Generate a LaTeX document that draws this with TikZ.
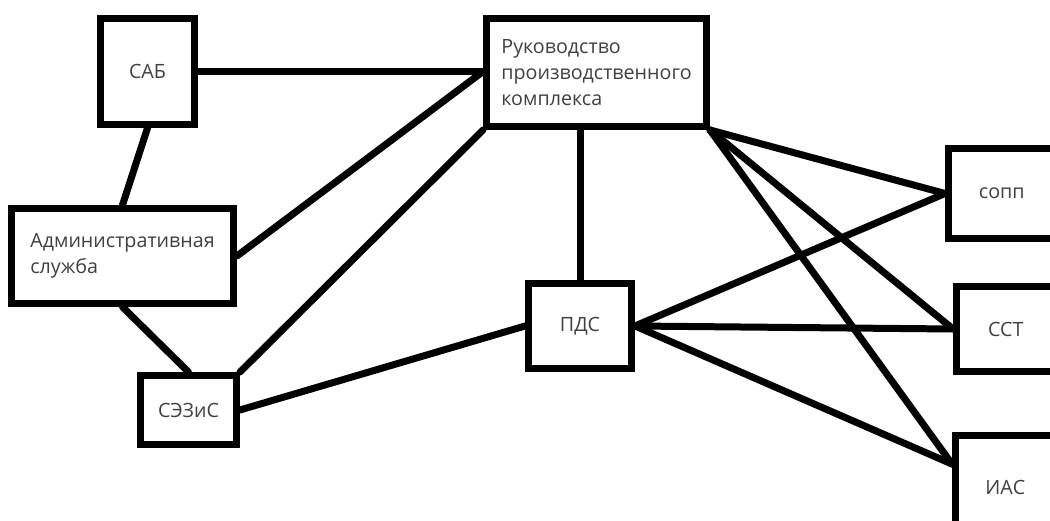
\documentclass[tikz,border=0pt]{standalone}
\usepackage{fontspec}
\setmainfont{Open Sans}
\usepackage{tikz}
\begin{document}
\begin{tikzpicture}[
      x=0.02cm, y=-0.02cm,
      box/.style={draw=black, line width=0.14cm, fill=white, align=left, inner sep=0pt, text=black!75, font=\fontsize{11.2}{14.8}\selectfont},
      conn/.style={draw=black, line width=0.14cm, line cap=round}
    ]
      \useasboundingbox (0,0) rectangle (1050,520);
      \node[box, minimum width=1.88cm, minimum height=2.12cm] (sab) at (147.5,71.5) {САБ};
      \node[box, minimum width=4.40cm, minimum height=2.16cm] (ruk) at (596.5,72.5) {Руководство\\производственного\\комплекса};
      \node[box, minimum width=4.44cm, minimum height=1.90cm] (adm) at (122.5,256) {Административная\\служба};
      \node[box, minimum width=1.92cm, minimum height=1.38cm] (sez) at (188.5,410) {СЭЗиС};
      \node[box, minimum width=2.06cm, minimum height=1.70cm] (pds) at (580,326) {ПДС};
      \node[box, minimum width=2.13cm, minimum height=1.80cm] (sopp) at (1001.75,193.5) {сопп};
      \node[box, minimum width=1.97cm, minimum height=1.70cm] (sst) at (1005.75,329) {ССТ};
      \node[box, minimum width=1.99cm, minimum height=2.09cm] (ias) at (1005.25,487.75) {ИАС};
      \draw[conn] (sab.east) -- (sab.east -| ruk.west);
      \draw[conn] (sab.south) -- (adm.north);
      \draw[conn] (adm.south) -- (sez.north);
      \draw[conn] (adm.east) -- (sab.east -| ruk.west);
      \draw[conn] (sez.north east) -- (ruk.south west);
      \draw[conn] (sez.east) -- (pds.west);
      \draw[conn] (pds.north |- ruk.south) -- (pds.north);
      \draw[conn] (ruk.south east) -- (sopp.west);
      \draw[conn] (ruk.south east) -- (sst.west);
      \draw[conn] (ruk.south east) -- (ias.156);
      \draw[conn] (pds.east) -- (sopp.west);
      \draw[conn] (pds.east) -- (sst.west);
      \draw[conn] (pds.east) -- (ias.156);
    \end{tikzpicture}
\end{document}
